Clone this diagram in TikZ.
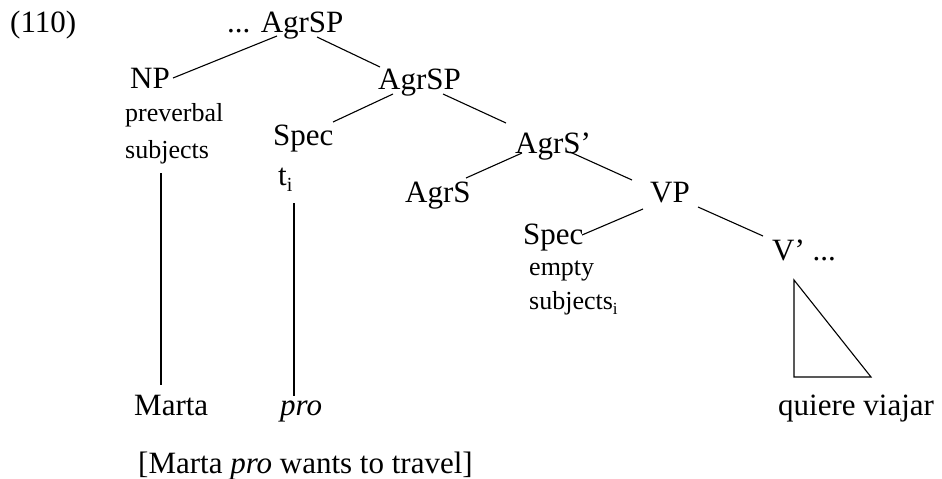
\documentclass[tikz,border=0pt]{standalone}
\usepackage{fontspec}
\setmainfont{Liberation Serif}
\usetikzlibrary{calc}
\newcommand{\mainsz}{\fontsize{31}{37}\selectfont}
\newcommand{\smallsz}{\fontsize{26}{31}\selectfont}
\newcommand{\subi}[1]{\raisebox{-0.22em}{\fontsize{#1}{#1}\selectfont i}}
\begin{document}
\begin{tikzpicture}[x=1pt,y=-1pt,
  lbl/.style={inner sep=0pt,anchor=base west,font=\mainsz},
  slbl/.style={inner sep=0pt,anchor=base west,font=\smallsz},
  edge/.style={line width=1.1pt,black}]
\useasboundingbox (0,0) rectangle (942,479);
% labels
\node[lbl] (ex) at (10,32) {(110)};
\node[lbl] (top) at (227,32) {... AgrSP};
\node[lbl] (np) at (130,88) {NP};
\node[lbl] (agrsp) at (378,89) {AgrSP};
\node[slbl] (prev) at (125,121) {preverbal};
\node[slbl] (subj) at (125,158) {subjects};
\node[lbl] (spec1) at (273,145) {Spec};
\node[lbl] (t1) at (278,185) {t\subi{20}};
\node[lbl] (agrsbar) at (515,153) {AgrS’};
\node[lbl] (agrs) at (405,202) {AgrS};
\node[lbl] (vp) at (650,202) {VP};
\node[lbl] (spec2) at (523,244) {Spec};
\node[slbl] (empty) at (529,275) {empty};
\node[slbl] (subj2) at (529,309) {subjects\subi{17}};
\node[lbl] (vbar) at (772,260) {V’ ...};
\node[lbl] (qv) at (778,415) {quiere viajar};
\node[lbl] (marta) at (134,415) {Marta};
\node[lbl] (pro) at (280,415) {\textit{pro}};
\node[lbl] (trans) at (138,473) {[Marta \textit{pro} wants to travel]};
% connectors
\draw[edge] ($(top.base west)+(50,4)$) -- ($(np.base west)+(43,-10)$);
\draw[edge] ($(top.base west)+(90,5)$) -- ($(agrsp.base west)+(2,-22)$);
\draw[edge] ($(agrsp.base west)+(15,5)$) -- ($(spec1.base west)+(60,-23)$);
\draw[edge] ($(agrsp.base west)+(65,5)$) -- ($(agrsbar.base west)+(-9,-30)$);
\draw[edge] ($(agrsbar.base west)+(7,0)$) -- ($(agrs.base west)+(61,-24)$);
\draw[edge] ($(agrsbar.base west)+(55,-1)$) -- ($(vp.base west)+(-18,-22)$);
\draw[edge] ($(vp.base west)+(-7,7)$) -- ($(spec2.base west)+(59,-9)$);
\draw[edge] ($(vp.base west)+(48,5)$) -- ($(vbar.base west)+(-9,-24)$);
\draw[edge] ($(subj.base west)+(36,15)$) -- ($(marta.base west)+(27,-30)$);
\draw[edge] ($(t1.base west)+(16,18)$) -- ($(pro.base west)+(14,-19)$);
\draw[edge,line join=miter] ($(vbar.base west)+(22,20)$) -- ($(qv.base west)+(16,-38)$)
  -- ($(qv.base west)+(93,-38)$) -- cycle;
\end{tikzpicture}
\end{document}
